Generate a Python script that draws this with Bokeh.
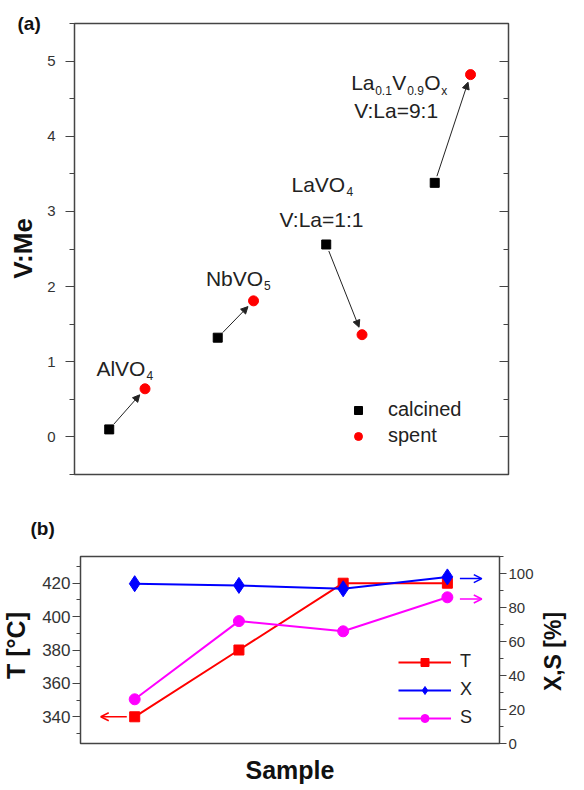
import math
from bokeh.plotting import figure
from bokeh.models import (Range1d, LinearAxis, Label, Arrow, NormalHead, OpenHead,
                          Legend, LegendItem, FixedTicker, SingleIntervalTicker,
                          CustomJSTickFormatter)
from bokeh.layouts import column, row
from bokeh.embed import file_html
from bokeh.resources import INLINE
from bokeh.core.properties import value

FONT = "Liberation Sans"

# ---------------- Panel (a) data ----------------
samples_a = ["AlVO4", "NbVO5", "LaVO4", "La0.1V0.9Ox"]
calc_x = [1, 2, 3, 4]
spent_x = [1.33, 2.33, 3.33, 4.33]
calcined_vme = [0.10, 1.32, 2.56, 3.38]
spent_vme = [0.64, 1.81, 1.36, 4.82]

# formula labels: anchor (data) and segments (text, dx px, dy px, subscript)
formula_anchor = [(0.882, 0.91), (1.891, 2.107), (2.68, 3.36), (3.23, 4.715)]
formula_segments = [
    [("AlVO", 0, 0, False), ("4", 50, -7, True)],
    [("NbVO", 0, 0, False), ("5", 58, -7, True)],
    [("LaVO", 0, 0, False), ("4", 55, -7, True)],
    [("La", 0, 0, False), ("0.1", 24, -8, True), ("V", 41, 0, False),
     ("0.9", 56, -8, True), ("O", 73, 0, False), ("x", 90, -8, True)],
]
ratio_texts = ["V:La=1:1", "V:La=9:1"]
ratio_anchor = [(2.57, 2.89), (3.258, 4.342)]

# ---------------- Panel (b) data ----------------
sample_pos = [1, 2, 3, 4]
T_vals = [340, 380, 420, 420]
X_vals = [94, 93, 91, 98]
S_vals = [26, 72, 66, 86]
arrow_X_level = 97
arrow_S_level = 85

TICK_COLOR = "#333333"
BORDER = "#444444"
TITLE_COLOR = "#111111"


def text_strip(w, h):
    """A bare figure whose data units are pixels, used to hold titles outside a frame."""
    f = figure(width=w, height=h, x_range=Range1d(0, w), y_range=Range1d(0, h),
               output_backend="svg", toolbar_location=None,
               x_axis_location=None, y_axis_location=None, min_border=0)
    f.min_border_left = f.min_border_right = f.min_border_top = f.min_border_bottom = 0
    f.frame_align = False
    f.grid.visible = False
    f.outline_line_color = None
    f.background_fill_color = "white"
    f.border_fill_color = "white"
    return f


def add_title_text(f, x, y, txt, size, angle=0.0, align="left"):
    f.text(x=[x], y=[y], text=[txt], angle=angle, text_font=value(FONT),
           text_font_size=value(size), text_font_style="bold", text_color=TITLE_COLOR,
           text_align=align, text_baseline="middle")


# ================= Panel (a) =================
A_H = 488
side_a = text_strip(44, A_H)
add_title_text(side_a, 17, A_H - 23, "(a)", "19px")
add_title_text(side_a, 22, A_H - 248, "V:Me", "26px", angle=math.pi / 2, align="center")

XA0, XA1, YA0, YA1 = 0.68, 4.68, -0.5, 5.5
pa = figure(width=524, height=A_H, x_range=Range1d(XA0, XA1), y_range=Range1d(YA0, YA1),
            output_backend="svg", toolbar_location=None, x_axis_location=None,
            min_border_left=28, min_border_right=60, min_border_top=23, min_border_bottom=14)
pa.frame_align = False
pa.grid.visible = False
pa.outline_line_color = BORDER
pa.outline_line_width = 1.5
pa.background_fill_color = "white"
pa.border_fill_color = "white"

ya = pa.yaxis[0]
ya.ticker = SingleIntervalTicker(interval=1, num_minor_ticks=2)
ya.axis_line_color = None
ya.major_tick_out = 9
ya.major_tick_in = 0
ya.minor_tick_out = 5
ya.minor_tick_in = 0
ya.major_tick_line_color = BORDER
ya.minor_tick_line_color = BORDER
ya.major_tick_line_width = 1.2
ya.minor_tick_line_width = 1.2
ya.major_label_standoff = 10
ya.major_label_text_font = FONT
ya.major_label_text_font_size = "15px"
ya.major_label_text_color = TICK_COLOR

ra = LinearAxis(ticker=SingleIntervalTicker(interval=1, num_minor_ticks=2),
                formatter=CustomJSTickFormatter(code="return ''"))
ra.axis_line_color = None
ra.major_tick_in = 9
ra.major_tick_out = 0
ra.minor_tick_in = 5
ra.minor_tick_out = 0
ra.major_tick_line_color = BORDER
ra.minor_tick_line_color = BORDER
ra.major_tick_line_width = 1.2
ra.minor_tick_line_width = 1.2
pa.add_layout(ra, "right")

# arrows calcined -> spent
PXX = 436.0 / (XA1 - XA0)
PXY = 451.0 / (YA1 - YA0)
for cx, cy, sx, sy in zip(calc_x, calcined_vme, spent_x, spent_vme):
    dx = (sx - cx) * PXX
    dy = (sy - cy) * PXY
    L = math.hypot(dx, dy)
    ux, uy = dx / L, dy / L
    pa.add_layout(Arrow(end=NormalHead(size=7, fill_color="#222222", line_color="#222222", line_width=1),
                        x_start=cx + ux * 7 / PXX, y_start=cy + uy * 7 / PXY,
                        x_end=sx - ux * 8 / PXX, y_end=sy - uy * 8 / PXY,
                        line_color="#222222", line_width=1))

r_calc = pa.scatter(calc_x, calcined_vme, marker="square", size=9, color="black")
r_spent = pa.scatter(spent_x, spent_vme, marker="circle", size=10, color="red")

for (ax, ay), segs in zip(formula_anchor, formula_segments):
    for txt, dxp, dyp, sub in segs:
        pa.add_layout(Label(x=ax, y=ay, x_offset=dxp, y_offset=dyp, text=txt,
                            text_font=FONT, text_font_size="12px" if sub else "21px",
                            text_color="#222222", text_baseline="alphabetic", text_align="left"))
for (ax, ay), txt in zip(ratio_anchor, ratio_texts):
    pa.add_layout(Label(x=ax, y=ay, text=txt, text_font=FONT, text_font_size="21px",
                        text_color="#222222", text_baseline="alphabetic", text_align="left"))

leg_a = Legend(items=[LegendItem(label="calcined", renderers=[r_calc]),
                      LegendItem(label="spent", renderers=[r_spent])],
               location=(274, 27))
leg_a.border_line_color = None
leg_a.background_fill_alpha = 0
leg_a.label_text_font = FONT
leg_a.label_text_font_size = "20px"
leg_a.label_text_color = "#222222"
leg_a.glyph_width = 20
leg_a.glyph_height = 20
leg_a.label_height = 20
leg_a.spacing = 3
leg_a.label_standoff = 20
leg_a.padding = 0
leg_a.margin = 0
pa.add_layout(leg_a, "center")

# ================= gap with "(b)" =================
GAP_H = 60
gap_b = text_strip(568, GAP_H)
add_title_text(gap_b, 30, GAP_H - 40, "(b)", "19px")

# ================= Panel (b) =================
B_H = 238
side_bl = text_strip(39, B_H)
add_title_text(side_bl, 15, B_H - 97, "T [°C]", "25px", angle=math.pi / 2, align="center")
side_br = text_strip(32, B_H)
add_title_text(side_br, 16, B_H - 103, "X,S [%]", "23px", angle=math.pi / 2, align="center")

XB0, XB1 = 0.48, 4.5
YB0, YB1 = 324, 436
pb = figure(width=497, height=B_H, x_range=Range1d(XB0, XB1), y_range=Range1d(YB0, YB1),
            output_backend="svg", toolbar_location=None,
            min_border_left=38, min_border_right=30, min_border_top=8, min_border_bottom=41)
pb.frame_align = False
pb.extra_y_ranges = {"pct": Range1d(0, 110)}
pb.grid.visible = False
pb.outline_line_color = BORDER
pb.outline_line_width = 1.5
pb.background_fill_color = "white"
pb.border_fill_color = "white"

xb = pb.xaxis[0]
xb.ticker = FixedTicker(ticks=[])
xb.axis_line_color = None
xb.major_tick_out = 0
xb.minor_tick_out = 0
xb.axis_label = "Sample"
xb.axis_label_text_font = FONT
xb.axis_label_text_font_size = "25px"
xb.axis_label_text_font_style = "bold"
xb.axis_label_text_color = TITLE_COLOR
xb.axis_label_standoff = 12

yb = pb.yaxis[0]
yb.ticker = SingleIntervalTicker(interval=20, num_minor_ticks=2)
yb.axis_line_color = None
yb.major_tick_out = 8
yb.major_tick_in = 0
yb.minor_tick_out = 4
yb.minor_tick_in = 0
yb.major_tick_line_color = BORDER
yb.minor_tick_line_color = BORDER
yb.major_tick_line_width = 1.2
yb.minor_tick_line_width = 1.2
yb.major_label_standoff = 2
yb.major_label_text_font = FONT
yb.major_label_text_font_size = "17px"
yb.major_label_text_color = TICK_COLOR

rb = LinearAxis(y_range_name="pct", ticker=SingleIntervalTicker(interval=20, num_minor_ticks=2))
rb.axis_line_color = None
rb.major_tick_out = 7
rb.major_tick_in = 0
rb.minor_tick_out = 4
rb.minor_tick_in = 0
rb.major_tick_line_color = BORDER
rb.minor_tick_line_color = BORDER
rb.major_tick_line_width = 1.2
rb.minor_tick_line_width = 1.2
rb.major_label_standoff = 2
rb.major_label_text_font = FONT
rb.major_label_text_font_size = "15px"
rb.major_label_text_color = TICK_COLOR
pb.add_layout(rb, "right")

lT = pb.line(sample_pos, T_vals, color="red", line_width=2)
mT = pb.scatter(sample_pos, T_vals, marker="square", size=10, color="red")
lX = pb.line(sample_pos, X_vals, color="blue", line_width=2, y_range_name="pct")
mX = pb.scatter(sample_pos, X_vals, marker="diamond", size=16, color="blue", y_range_name="pct")
lS = pb.line(sample_pos, S_vals, color="magenta", line_width=2, y_range_name="pct")
mS = pb.scatter(sample_pos, S_vals, marker="circle", size=11, color="magenta", y_range_name="pct")

pb.add_layout(Arrow(end=OpenHead(size=8, line_color="red", line_width=1.5),
                    x_start=0.924, y_start=T_vals[0], x_end=0.674, y_end=T_vals[0],
                    line_color="red", line_width=1.5))
pb.add_layout(Arrow(end=OpenHead(size=8, line_color="blue", line_width=1.5),
                    x_start=4.12, y_start=arrow_X_level, x_end=4.33, y_end=arrow_X_level,
                    line_color="blue", line_width=1.5, y_range_name="pct"))
pb.add_layout(Arrow(end=OpenHead(size=8, line_color="magenta", line_width=1.5),
                    x_start=4.12, y_start=arrow_S_level, x_end=4.33, y_end=arrow_S_level,
                    line_color="magenta", line_width=1.5, y_range_name="pct"))

leg_b = Legend(items=[LegendItem(label="T", renderers=[lT, mT]),
                      LegendItem(label="X", renderers=[lX, mX]),
                      LegendItem(label="S", renderers=[lS, mS])],
               location=(318, 15))
leg_b.border_line_color = None
leg_b.background_fill_alpha = 0
leg_b.label_text_font = FONT
leg_b.label_text_font_size = "18px"
leg_b.label_text_color = "#222222"
leg_b.glyph_width = 53
leg_b.glyph_height = 20
leg_b.label_height = 20
leg_b.spacing = 7
leg_b.label_standoff = 9
leg_b.padding = 0
leg_b.margin = 0
pb.add_layout(leg_b, "center")

layout = column(row(side_a, pa), gap_b, row(side_bl, pb, side_br))
open("out.html", "w").write(file_html(layout, INLINE))
